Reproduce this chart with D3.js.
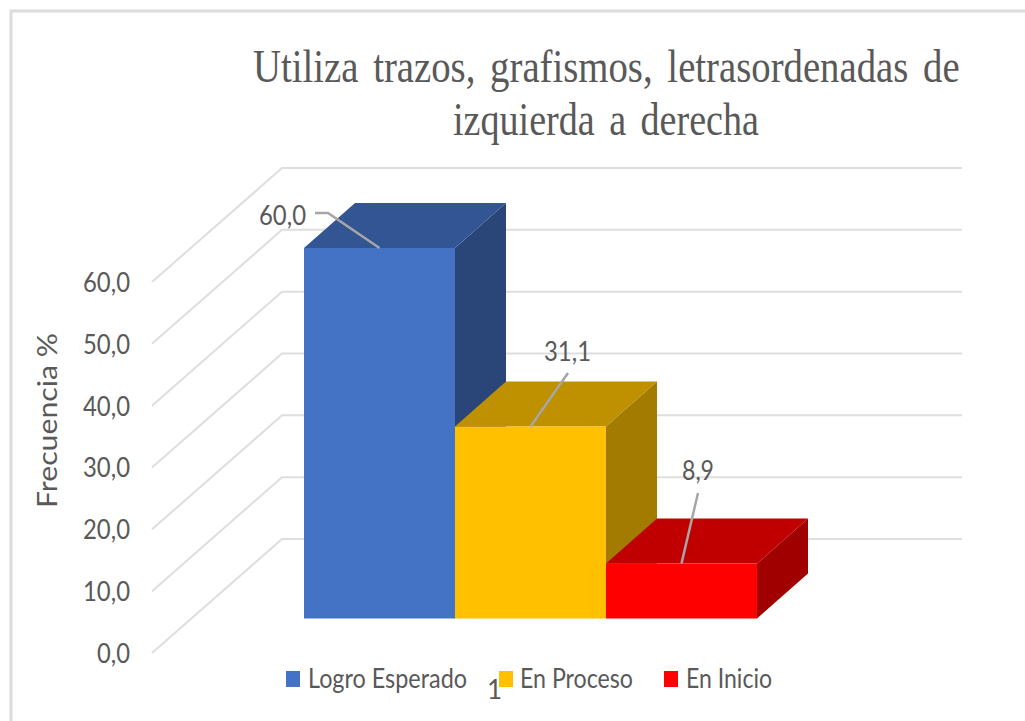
<!DOCTYPE html>
<html><head><meta charset="utf-8">
<script src="https://cdn.jsdelivr.net/npm/d3@7"></script>
<style>html,body{margin:0;padding:0;background:#fff;overflow:hidden}svg{display:block}</style>
</head><body><svg id="c" width="1025" height="721"></svg>
<script>
const categories = ["Logro Esperado","En Proceso","En Inicio"];
const values = [60.0,31.1,8.9];
const valueLabels = ["60,0","31,1","8,9"];
const ticks = [0,10,20,30,40,50,60];
const frontColors = ["#4472C4","#FFC000","#FF0000"];
const topColors = ["#335593","#BF9000","#C00000"];
const sideColors = ["#2A4679","#A37B00","#A00000"];
const titleLines = ["Utiliza trazos, grafismos, letrasordenadas de","izquierda a derecha"];
const axisTitle = "Frecuencia %";
const catLabel = "1";

const svg = d3.select("#c");
const sans = "Lato,'Open Sans',sans-serif";
const grey = "#595959";
function fit(sel,len){return sel.attr("textLength",len).attr("lengthAdjust","spacingAndGlyphs");}

// frame
svg.append("path").attr("d","M11,721V11H1025").attr("fill","none").attr("stroke","#DCDCDC").attr("stroke-width",3);

// projected scales
const yFront = d3.scaleLinear([0,60],[653,282]);
const yBack = d3.scaleLinear([0,60],[539,168]);
const yBar = d3.scaleLinear([0,60],[618.5,248]);
const x = d3.scaleBand(categories,[304,757]);
const xWallFront=152, xWallBack=282, xWallEnd=962, barDx=51, barDy=45;

// gridlines
const grid = svg.append("g").attr("fill","none").attr("stroke","#DEDEDE").attr("stroke-width",2);
grid.selectAll("path").data(ticks).join("path")
  .attr("d",t=>d3.line()([[xWallFront,yFront(t)],[xWallBack,yBack(t)],[xWallEnd,yBack(t)]]));

// axis
const axis = svg.append("g").attr("transform","translate(130,0)")
  .call(d3.axisLeft(yFront).tickValues(ticks).tickSize(0).tickPadding(0).tickFormat(d=>d3.format(".1f")(d).replace(".",",")));
axis.select(".domain").remove();
axis.selectAll("text").attr("font-family",sans).attr("font-size",26).attr("fill",grey).attr("dy","0.36em")
  .each(function(d){fit(d3.select(this),d===0?33:47);});

// bars
const bars = svg.selectAll("g.bar").data(categories).join("g").attr("class","bar");
bars.each(function(c,i){
  const g=d3.select(this), x0=x(c), x1=x0+x.bandwidth(), y0=yBar(0), yt=yBar(values[i]);
  g.append("polygon").attr("fill",sideColors[i]).attr("points",[[x1,yt],[x1+barDx,yt-barDy],[x1+barDx,y0-barDy],[x1,y0]].join(" "));
  g.append("polygon").attr("fill",topColors[i]).attr("points",[[x0,yt],[x0+barDx,yt-barDy],[x1+barDx,yt-barDy],[x1,yt]].join(" "));
  g.append("rect").attr("x",x0).attr("y",yt).attr("width",x.bandwidth()).attr("height",y0-yt).attr("fill",frontColors[i]);
});

// leaders and value labels
const leaderEnds=[[[328,213],[315,213]],[[568,373]],[[698,493]]];
const labelPos=[[259,225],[544,361],[682,480]];
const labelW=[47,47,32];
categories.forEach((c,i)=>{
  const pts=[[x(c)+x.bandwidth()/2,yBar(values[i])],...leaderEnds[i]];
  svg.append("path").attr("d",d3.line()(pts)).attr("fill","none").attr("stroke","#A6A6A6").attr("stroke-width",2.5);
  fit(svg.append("text").attr("x",labelPos[i][0]).attr("y",labelPos[i][1])
    .attr("font-family",sans).attr("font-size",26).attr("fill",grey).text(valueLabels[i]),labelW[i]);
});

// title: measured, then squeezed horizontally to the reference width
const titleX=[253,453], titleW=[707,306], titleY=[82,135];
titleLines.forEach((t,i)=>{
  const el=svg.append("text").attr("font-family","'Liberation Serif',serif")
   .attr("font-size",46).attr("word-spacing",6).attr("fill",grey).text(t);
  const k=titleW[i]/el.node().getComputedTextLength();
  el.attr("transform",`translate(${titleX[i]},${titleY[i]}) scale(${k},1)`);
});

// axis title
fit(svg.append("text").attr("transform","translate(57,508) rotate(-90)").attr("font-family",sans)
  .attr("font-size",26).attr("fill",grey).text(axisTitle),175);

// legend
const swatchX=[286,499,664], legTextX=[308,520,686], legW=[159,113,86];
categories.forEach((c,i)=>{
  svg.append("rect").attr("x",swatchX[i]).attr("y",671).attr("width",14).attr("height",16).attr("fill",frontColors[i]);
  fit(svg.append("text").attr("x",legTextX[i]).attr("y",688).attr("font-family",sans).attr("font-size",26).attr("fill",grey).text(c),legW[i]);
});
svg.append("text").attr("x",487).attr("y",699).attr("font-family",sans).attr("font-size",26).attr("fill",grey).text(catLabel);
</script></body></html>
